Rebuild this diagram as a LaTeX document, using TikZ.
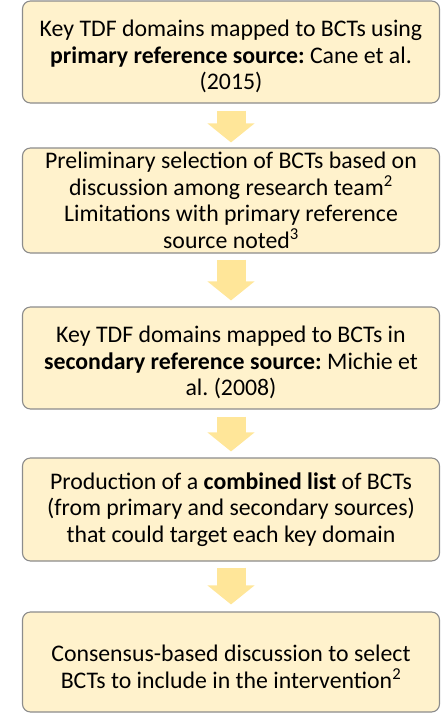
\documentclass[tikz,border=0pt]{standalone}
\usepackage{fontspec}
\setmainfont{Carlito}
\usepackage{tikz}
\usetikzlibrary{arrows.meta}
\frenchspacing

\definecolor{boxfill}{HTML}{FFF2CC}
\definecolor{boxline}{HTML}{8C8C8C}
\definecolor{arrowfill}{HTML}{FFE699}

\newcommand{\toppad}{\rule{0pt}{26pt}}

\tikzset{
    stage/.style={draw=boxline, fill=boxfill, line width=1.1pt, rounded corners=8pt,
        minimum width=417pt, align=center, font=\fontsize{23.8}{26.5}\selectfont, inner sep=0pt},
    flow/.style={draw=arrowfill, line width=29pt,
        -{Triangle[length=19pt, width=46pt, fill=arrowfill]}}
}

\begin{document}
\begin{tikzpicture}[x=1pt, y=-1pt]
        \useasboundingbox (0, 0) rectangle (441, 713);

        \node[stage, minimum height=102pt] (s1) at (231, 52) {\toppad Key TDF domains mapped to BCTs using\\
            \textbf{primary reference source:} Cane et al.\\(2015)};
        \node[stage, minimum height=105pt] (s2) at (231, 200.5) {Preliminary selection of BCTs based on\\
            discussion among research team\textsuperscript{2}\\Limitations with primary reference\\source noted\textsuperscript{3}};
        \node[stage, minimum height=102pt] (s3) at (231, 358) {\toppad Key TDF domains mapped to BCTs in\\
            \textbf{secondary reference source:} Michie et\\al. (2008)};
        \node[stage, minimum height=103pt] (s4) at (231, 509.5) {Production of a \textbf{combined list} of BCTs\\
            (from primary and secondary sources)\\that could target each key domain};
        \node[stage, minimum height=100pt] (s5) at (231, 662) {\toppad Consensus-based discussion to select\\
            BCTs to include in the intervention\textsuperscript{2}};


        \draw[flow] ([yshift=-7pt]s1.south) -- ([yshift=5pt]s2.north);
        \draw[flow] ([yshift=-6pt]s2.south) -- ([yshift=6pt]s3.north);
        \draw[flow] ([yshift=-7pt]s3.south) -- ([yshift=6pt]s4.north);
        \draw[flow] ([yshift=-6pt]s4.south) -- ([yshift=7pt]s5.north);
    \end{tikzpicture}
\end{document}
